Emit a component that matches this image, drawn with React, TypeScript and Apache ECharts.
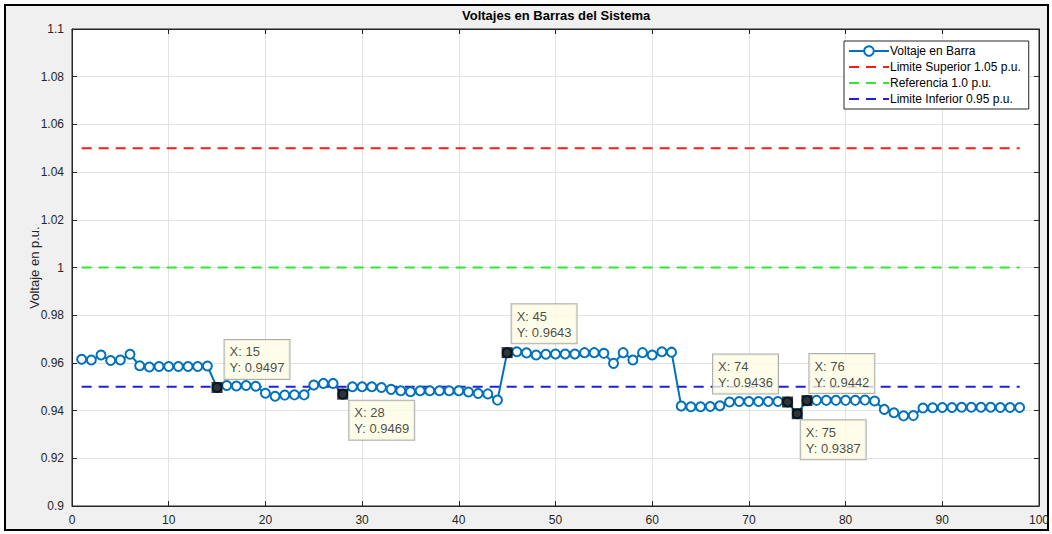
import React, { useEffect, useRef } from "react";
import * as echarts from "echarts";

const voltages: number[] = [
  0.9615, 0.9612, 0.9633, 0.961, 0.9612, 0.9636, 0.9588, 0.9583, 0.9585, 0.9585,
  0.9585, 0.9585, 0.9585, 0.9587, 0.9497, 0.9505, 0.9503, 0.9505, 0.9502, 0.9473,
  0.946, 0.9465, 0.9466, 0.9466, 0.9507, 0.9514, 0.9514, 0.9469, 0.95, 0.95,
  0.95, 0.9497, 0.9489, 0.9483, 0.9479, 0.9483, 0.9483, 0.9483, 0.9483, 0.9483,
  0.9478, 0.9472, 0.947, 0.9444, 0.9643, 0.9647, 0.9642, 0.9633, 0.9636, 0.9637,
  0.9637, 0.9637, 0.9643, 0.9643, 0.964, 0.9598, 0.9643, 0.9612, 0.9643, 0.9633,
  0.9647, 0.9645, 0.9419, 0.9416, 0.9416, 0.9417, 0.942, 0.9436, 0.9438, 0.9438,
  0.9438, 0.9438, 0.9438, 0.9436, 0.9387, 0.9442, 0.9443, 0.9443, 0.9443, 0.9443,
  0.9443, 0.9444, 0.944, 0.9405, 0.9391, 0.9378, 0.9379, 0.9411, 0.9412, 0.9413,
  0.9413, 0.9414, 0.9414, 0.9414, 0.9414, 0.9413, 0.9413, 0.9413,
];
const busNumbers: number[] = voltages.map((_, i) => i + 1);

const seriesNames = [
  "Voltaje en Barra",
  "Limite Superior 1.05 p.u.",
  "Referencia 1.0 p.u.",
  "Limite Inferior 0.95 p.u.",
];
const limitValues: number[] = [1.05, 1.0, 0.95];
const limitColors: string[] = ["#ff1a1a", "#33e633", "#1f1fdc"];

const tipBuses: number[] = [15, 28, 45, 74, 75, 76];
// label offsets (px) relative to the marker
const tipOffsets: [number, number][] = [
  [13, -42],
  [12, 12],
  [10, -43],
  [-69, -42],
  [9, 12],
  [8, -41],
];

const xTicks = { min: 0, max: 100, interval: 10 };
const yTicks = { min: 0.9, max: 1.1, interval: 0.02 };

const FONT = "'Liberation Sans', Arial, Helvetica, sans-serif";
const AX = "#262626";

export default function App() {
  const ref = useRef<HTMLDivElement>(null);
  useEffect(() => {
    if (!ref.current) return;
    const chart = echarts.init(ref.current, undefined, { renderer: "svg" });
    const x0 = busNumbers[0];
    const x1 = busNumbers[busNumbers.length - 1];
    const fmtY = (v: number) => String(parseFloat(v.toFixed(2)));
    const axisCommon = {
      axisLine: { show: true, onZero: false, lineStyle: { color: AX, width: 1 } },
      axisTick: { show: true, inside: true, length: 5, lineStyle: { color: AX } },
    };
    const option: any = {
      animation: false,
      backgroundColor: "transparent",
      textStyle: { fontFamily: FONT },
      grid: {
        left: 72,
        right: 12,
        top: 29,
        bottom: 28,
        show: true,
        backgroundColor: "#ffffff",
        borderColor: AX,
        borderWidth: 1,
      },
      graphic: [
        {
          type: "text",
          left: 462,
          top: 9,
          style: {
            text: "Voltajes en Barras del Sistema",
            fontFamily: FONT,
            fontSize: 13,
            fontWeight: "bold",
            fill: "#000",
          },
        },
      ],
      legend: {
        data: [
          { name: seriesNames[0] },
          ...seriesNames.slice(1).map((n) => ({ name: n, itemStyle: { opacity: 0 } })),
        ],
        orient: "vertical",
        left: 844,
        top: 41,
        backgroundColor: "#ffffff",
        borderColor: AX,
        borderWidth: 1,
        borderRadius: 0,
        padding: [4, 8, 4, 4],
        itemWidth: 40,
        itemHeight: 12,
        itemGap: 4,
        textStyle: { fontSize: 12, color: "#000", fontFamily: FONT, padding: [0, 0, 0, -4] },
      },
      xAxis: [
        {
          type: "value",
          position: "bottom",
          ...xTicks,
          ...axisCommon,
          axisLabel: { color: AX, fontSize: 12, margin: 8, fontFamily: FONT },
          splitLine: { show: true, lineStyle: { color: "#e3e3e3", width: 1 } },
        },
        {
          type: "value",
          position: "top",
          ...xTicks,
          ...axisCommon,
          axisLabel: { show: false },
          splitLine: { show: false },
        },
      ],
      yAxis: [
        {
          type: "value",
          position: "left",
          ...yTicks,
          ...axisCommon,
          name: "Voltaje en p.u.",
          nameLocation: "middle",
          nameGap: 31,
          nameMoveOverlap: false,
          nameTextStyle: { color: AX, fontSize: 13, fontFamily: FONT },
          axisLabel: { color: AX, fontSize: 12, margin: 8, fontFamily: FONT, formatter: fmtY },
          splitLine: { show: true, lineStyle: { color: "#e3e3e3", width: 1 } },
        },
        {
          type: "value",
          position: "right",
          ...yTicks,
          ...axisCommon,
          axisLabel: { show: false },
          splitLine: { show: false },
        },
      ],
      series: [
        {
          name: seriesNames[0],
          type: "line",
          data: busNumbers.map((b, i) => [b, voltages[i]]),
          symbol: "emptyCircle",
          symbolSize: 9,
          showAllSymbol: true,
          lineStyle: { color: "#0072BD", width: 2 },
          itemStyle: { color: "#0072BD", borderWidth: 2 },
          z: 3,
        },
        ...limitValues.map((v, k) => ({
          name: seriesNames[k + 1],
          type: "line",
          data: [
            [x0, v],
            [x1, v],
          ],
          symbol: "none",
          lineStyle: { color: limitColors[k], width: 2, type: [10, 7] },
          itemStyle: { color: limitColors[k] },
          z: 2,
        })),
        {
          name: "datatips",
          type: "scatter",
          symbol: "rect",
          symbolSize: 11,
          itemStyle: { color: "#000" },
          z: 10,
          data: tipBuses.map((b, k) => ({
            value: [b, voltages[b - 1]],
            label: {
              show: true,
              position: [tipOffsets[k][0], tipOffsets[k][1]],
              align: "left",
              verticalAlign: "top",
              formatter: `X: ${b}\nY: ${voltages[b - 1].toFixed(4)}`,
              backgroundColor: "#fcfce4",
              borderColor: "#9a9a9a",
              borderWidth: 1,
              padding: [4, 5, 3, 5],
              lineHeight: 16,
              fontSize: 13,
              color: "#1a1a1a",
              fontFamily: FONT,
            },
          })),
        },
      ],
    };
    chart.setOption(option);
    return () => chart.dispose();
  }, []);

  return (
    <div style={{ position: "absolute", left: 0, top: 0, width: 1052, height: 534, background: "#fff" }}>
      <div
        style={{
          position: "absolute",
          left: 4,
          top: 4,
          width: 1041,
          height: 523,
          border: "2px solid #000",
          background: "#f0f0f0",
        }}
      />
      <div ref={ref} style={{ position: "absolute", left: 0, top: 0, width: 1052, height: 534 }} />
    </div>
  );
}
